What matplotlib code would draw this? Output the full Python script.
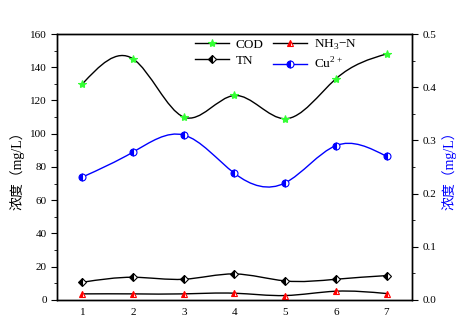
import numpy as np
import matplotlib.pyplot as plt
from matplotlib.path import Path
from matplotlib.patches import PathPatch
from matplotlib.lines import Line2D
from matplotlib.ticker import MultipleLocator

plt.rcParams['font.family'] = ['Liberation Serif', 'Noto Sans CJK SC']
plt.rcParams['mathtext.fontset'] = 'custom'
plt.rcParams['mathtext.rm'] = 'Liberation Serif'

x = [1, 2, 3, 4, 5, 6, 7]
cod = [130, 145, 110, 123, 109, 133, 148]
nh3 = [3.6, 3.6, 3.6, 4.0, 2.6, 5.2, 3.8]
tn = [10.6, 13.6, 12.4, 15.6, 11.4, 12.4, 14.6]
cu = [0.231, 0.278, 0.310, 0.238, 0.220, 0.290, 0.270]


def spline_path(xs, ys):
    # natural cubic spline drawn as bezier segments
    xs = np.asarray(xs, float)
    ys = np.asarray(ys, float)
    n = len(xs)
    h = np.diff(xs)
    A = np.zeros((n, n))
    b = np.zeros(n)
    A[0, 0] = A[-1, -1] = 1
    for i in range(1, n - 1):
        A[i, i - 1] = h[i - 1]
        A[i, i] = 2 * (h[i - 1] + h[i])
        A[i, i + 1] = h[i]
        b[i] = 6 * ((ys[i + 1] - ys[i]) / h[i] - (ys[i] - ys[i - 1]) / h[i - 1])
    M = np.linalg.solve(A, b)
    m = np.zeros(n)
    for i in range(n - 1):
        m[i] = (ys[i + 1] - ys[i]) / h[i] - h[i] * (2 * M[i] + M[i + 1]) / 6
    m[-1] = (ys[-1] - ys[-2]) / h[-1] + h[-1] * (M[-2] + 2 * M[-1]) / 6
    verts = [(xs[0], ys[0])]
    codes = [Path.MOVETO]
    for i in range(n - 1):
        d = h[i] / 3
        verts += [(xs[i] + d, ys[i] + m[i] * d),
                  (xs[i + 1] - d, ys[i + 1] - m[i + 1] * d),
                  (xs[i + 1], ys[i + 1])]
        codes += [Path.CURVE4] * 3
    return Path(verts, codes)


fig = plt.figure(figsize=(4.68, 3.27), dpi=100)
ax = fig.add_axes([0.122, 0.083, 0.758, 0.813])
ax2 = ax.twinx()

series = [
    (ax, cod, 'black', '*', '#33ff33', 6),
    (ax, nh3, 'black', '^', 'red', 5),
    (ax, tn, 'black', 'D', 'black', 4.5),
    (ax2, cu, 'blue', 'o', 'blue', 5),
]
handles = []
for a, ys, lc, mk, mc, ms in series:
    a.add_patch(PathPatch(spline_path(x, ys), facecolor='none', edgecolor=lc, lw=1.0))
    kw = dict(marker=mk, markersize=ms, markeredgecolor=mc, markerfacecolor=mc,
              markeredgewidth=0.8)
    if mk != '*':
        kw.update(fillstyle='left', markerfacecoloralt='white')
    a.plot(x, ys, linestyle='none', zorder=3, **kw)
    handles.append(Line2D([], [], color=lc, lw=1.0, **kw))

ax.set_xlim(0.5, 7.5)
ax.set_ylim(0, 160)
ax2.set_ylim(0, 0.5)
ax.set_xticks(x)
ax.yaxis.set_major_locator(MultipleLocator(20))
ax.yaxis.set_minor_locator(MultipleLocator(10))
ax2.yaxis.set_major_locator(MultipleLocator(0.1))
ax2.yaxis.set_minor_locator(MultipleLocator(0.05))
ax2.yaxis.set_major_formatter(plt.FuncFormatter(lambda v, p: f'{v:.1f}'))

ax.tick_params(axis='x', length=0, labelsize=8, pad=6)
ax.tick_params(axis='y', which='major', length=4, labelsize=8)
ax.tick_params(axis='y', which='minor', length=2)
ax2.tick_params(axis='y', which='major', length=4, labelsize=8)
ax2.tick_params(axis='y', which='minor', length=2)
for a in (ax, ax2):
    for s in a.spines.values():
        s.set_linewidth(1.0)

ax.set_ylabel('浓度（mg/L）', fontsize=10, labelpad=4)
ax2.set_ylabel('浓度（mg/L）', fontsize=10, color='blue', labelpad=4)

labels = ['COD', 'NH$_3$$-$N', 'TN', 'Cu$^{2+}$']
order = [0, 2, 1, 3]
leg = ax.legend([handles[i] for i in order], [labels[i] for i in order],
                ncol=2, frameon=False, fontsize=9.5, loc='upper left',
                bbox_to_anchor=(0.355, 1.03), handlelength=2.6,
                columnspacing=0.7, labelspacing=0.3, handletextpad=0.5)
leg.set_zorder(5)

fig.savefig('out.png', dpi=100)
